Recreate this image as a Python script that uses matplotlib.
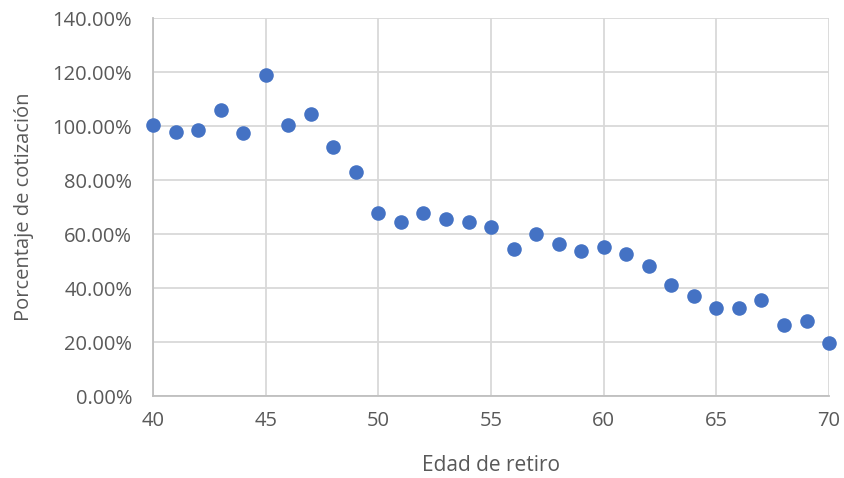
import matplotlib.pyplot as plt
from matplotlib.ticker import FuncFormatter

# edad de retiro vs porcentaje de cotizacion
edad = list(range(40, 71))
pct = [100.5, 97.8, 98.5, 105.9, 97.4, 118.9, 100.4, 104.4, 92.2, 83.0,
       67.8, 64.4, 67.8, 65.6, 64.4, 62.6, 54.4, 60.0, 56.3, 53.7,
       55.2, 52.6, 48.1, 41.1, 37.0, 32.6, 32.6, 35.5, 26.3, 27.8, 19.6]

xticks = [40, 45, 50, 55, 60, 65, 70]
yticks = [0, 20, 40, 60, 80, 100, 120, 140]

plt.rcParams['font.family'] = ['Open Sans', 'DejaVu Sans']

fig = plt.figure(figsize=(8.44, 4.78), dpi=100)
ax = fig.add_axes([0.1813, 0.1715, 0.801, 0.7905])

ax.scatter(edad, pct, s=110, color='#4472C4', zorder=3, clip_on=False, linewidths=0)

ax.set_xlim(40, 70)
ax.set_ylim(0, 140)
ax.set_xticks(xticks)
ax.set_yticks(yticks)
ax.yaxis.set_major_formatter(FuncFormatter(lambda v, p: '%.2f%%' % v))

ax.grid(True, color='#D9D9D9', linewidth=1.3)
ax.set_axisbelow(True)
for s in ['top', 'right']:
    ax.spines[s].set_visible(False)
for s in ['left', 'bottom']:
    ax.spines[s].set_color('#BFBFBF')
    ax.spines[s].set_linewidth(1.3)

ax.tick_params(axis='y', length=0, labelsize=14.5, colors='#595959', pad=15)
ax.tick_params(axis='x', length=0, labelsize=14.5, colors='#595959', pad=11)
ax.set_xlabel('Edad de retiro', fontsize=15, color='#595959')
ax.set_ylabel('Porcentaje de cotización', fontsize=14.5, color='#595959')
ax.xaxis.set_label_coords(0.5, -0.185)
ax.yaxis.set_label_coords(-0.191, 0.5)
ax.xaxis.label.set_va('center')
ax.yaxis.label.set_va('center')

fig.savefig('out.png', dpi=100)
